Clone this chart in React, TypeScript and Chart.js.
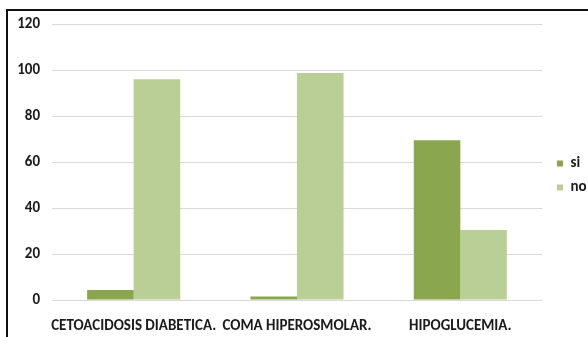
import React, { useEffect, useRef } from "react";
import { Chart, registerables } from "chart.js";

Chart.register(...registerables);

const categories = ["CETOACIDOSIS DIABETICA.", "COMA HIPEROSMOLAR.", "HIPOGLUCEMIA."];
const siValues = [4.3, 1.5, 69.5];
const noValues = [96, 98.7, 30.4];
const seriesNames = ["si", "no"];
const yTicks = { min: 0, max: 120, step: 20 };

export default function App() {
  const ref = useRef<HTMLCanvasElement | null>(null);
  useEffect(() => {
    if (!ref.current) return;
    const font = { family: "Carlito, Lato, sans-serif", weight: "bold" as const, size: 15 };
    const hidden = {
      display: true,
      grid: { display: false, drawTicks: false },
      border: { display: false },
      ticks: { display: false },
    };
    const chart = new Chart(ref.current, {
      type: "bar",
      data: {
        labels: categories,
        datasets: [
          { label: seriesNames[0], data: siValues, backgroundColor: "#8aa64e", categoryPercentage: 0.57, barPercentage: 1 },
          { label: seriesNames[1], data: noValues, backgroundColor: "#b9cf96", categoryPercentage: 0.57, barPercentage: 1 },
        ],
      },
      options: {
        responsive: false,
        animation: false,
        layout: { padding: { left: 0, top: 14, right: 0, bottom: 0 } },
        plugins: {
          tooltip: { enabled: false },
          legend: {
            position: "right",
            maxWidth: 40,
            labels: { boxWidth: 6, boxHeight: 6, padding: 9, color: "#1a1a1a", font },
          },
        },
        scales: {
          x: {
            grid: { display: false, drawTicks: false },
            border: { display: false },
            ticks: { color: "#1a1a1a", font, padding: 17, maxRotation: 0, autoSkip: false },
            afterFit: (s: any) => { s.height = 37; },
          },
          y: {
            min: yTicks.min,
            max: yTicks.max,
            grid: { color: "#d9d9d9", drawTicks: false },
            border: { display: false },
            ticks: { stepSize: yTicks.step, color: "#1a1a1a", font, padding: 12 },
            afterFit: (s: any) => { s.width = 52; },
          },
          x2: { ...hidden, type: "linear", position: "top", afterFit: (s: any) => { s.height = 10; } },
          y2: { ...hidden, type: "linear", position: "right", afterFit: (s: any) => { s.width = 6; } },
        } as any,
      },
    });
    let alive = true;
    document.fonts.load("bold 15px Carlito").then(() => { if (alive) chart.update(); });
    return () => { alive = false; chart.destroy(); };
  }, []);
  return (
    <div style={{ position: "fixed", left: 0, top: 0, width: 588, height: 337, overflow: "hidden", background: "#fff" }}>
      <canvas ref={ref} width={588} height={337} style={{ position: "absolute", left: 0, top: 0 }} />
      <div style={{ position: "absolute", left: 6, top: 9, width: 800, height: 600, borderLeft: "2px solid #111", borderTop: "2px solid #111" }} />
    </div>
  );
}
